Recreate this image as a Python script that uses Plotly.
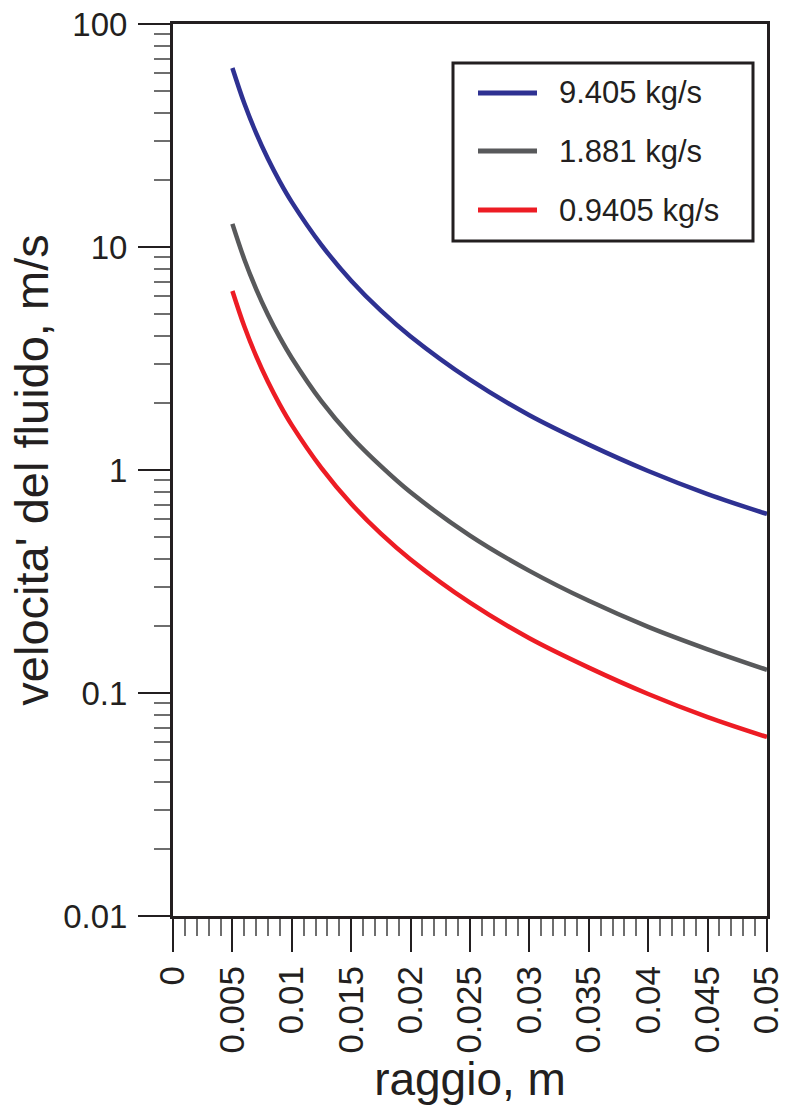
import plotly.graph_objects as go

# ---- data ----
raggio = [0.005, 0.006, 0.007, 0.008, 0.009, 0.010, 0.0125, 0.015, 0.0175,
          0.020, 0.025, 0.030, 0.035, 0.040, 0.045, 0.050]
v_9405 = [63.5, 44.1, 32.4, 24.8, 19.6, 15.9, 10.2, 7.06, 5.18,
          3.97, 2.54, 1.76, 1.30, 0.99, 0.78, 0.635]
v_1881 = [12.7, 8.82, 6.48, 4.96, 3.92, 3.18, 2.03, 1.41, 1.04,
          0.794, 0.508, 0.353, 0.259, 0.198, 0.157, 0.127]
v_09405 = [6.35, 4.41, 3.24, 2.48, 1.96, 1.59, 1.02, 0.706, 0.518,
           0.397, 0.254, 0.176, 0.130, 0.099, 0.078, 0.0635]
series_names = ["9.405 kg/s", "1.881 kg/s", "0.9405 kg/s"]
series_values = [v_9405, v_1881, v_09405]
series_colors = ["rgb(46,49,146)", "rgb(88,89,91)", "rgb(237,28,36)"]

x_ticks = [0, 0.005, 0.01, 0.015, 0.02, 0.025, 0.03, 0.035, 0.04, 0.045, 0.05]
x_ticklabels = ["0", "0.005", "0.01", "0.015", "0.02", "0.025", "0.03",
                "0.035", "0.04", "0.045", "0.05"]

x_title = "raggio, m"
y_title = "velocita' del fluido, m/s"

INK = "rgb(35,31,32)"
FONT = "Liberation Sans, Arial, Helvetica, sans-serif"

W, H = 785, 1105
L, R, T, B = 173, 18, 24, 189
PW, PH = W - L - R, H - T - B


def px_x(p):
    return (p - L) / PW


def px_y(p):
    return (H - B - p) / PH


fig = go.Figure()
for name, vals, col in zip(series_names, series_values, series_colors):
    fig.add_trace(go.Scatter(x=raggio, y=vals, name=name, mode="lines",
                             line=dict(color=col, width=4.5, shape="spline"),
                             showlegend=False, cliponaxis=False, hoverinfo="skip"))

# manual legend (box, samples, labels)
shapes = [dict(type="rect", xref="paper", yref="paper",
               x0=px_x(453), x1=px_x(753), y0=px_y(241), y1=px_y(63),
               line=dict(color=INK, width=3), fillcolor="white", layer="above")]
annotations = []
rows = [93, 151, 210]
for name, col, ry in zip(series_names, series_colors, rows):
    shapes.append(dict(type="line", xref="paper", yref="paper",
                       x0=px_x(478), x1=px_x(537), y0=px_y(ry), y1=px_y(ry),
                       line=dict(color=col, width=5), layer="above"))
    annotations.append(dict(text=name, xref="paper", yref="paper",
                            x=px_x(557), y=px_y(ry), xanchor="left", yanchor="middle",
                            showarrow=False, font=dict(size=31, color=INK, family=FONT)))

# fragment of the cut-off title at the top of the picture
annotations.append(dict(text="p", xref="paper", yref="paper", x=px_x(203), y=1,
                        xanchor="left", yanchor="bottom", yshift=23, showarrow=False,
                        font=dict(size=46, color=INK, family=FONT)))

fig.update_layout(
    width=W, height=H,
    margin=dict(l=L, r=R, t=T, b=B, pad=0, autoexpand=False),
    paper_bgcolor="white", plot_bgcolor="white",
    font=dict(family=FONT, color=INK),
    showlegend=False,
    shapes=shapes, annotations=annotations,
)

fig.update_xaxes(
    range=[0, 0.05], tickmode="array", tickvals=x_ticks, ticktext=x_ticklabels,
    automargin=False, ticklabeloverflow="allow",
    showgrid=False, zeroline=False,
    showline=True, linecolor=INK, linewidth=3, mirror=True,
    ticks="outside", ticklen=33, tickwidth=2, tickcolor=INK,
    tickangle=-90, tickfont=dict(size=35, color=INK, family=FONT),
    ticklabelstandoff=0,
    minor=dict(ticks="outside", ticklen=17, tickwidth=2, tickcolor="rgb(110,110,110)",
               tickmode="linear", tick0=0, dtick=0.001, showgrid=False),
    title=dict(text=x_title, font=dict(size=46, color=INK, family=FONT), standoff=4),
)
fig.update_yaxes(
    type="log", range=[-2, 2], dtick=1, automargin=False, ticklabeloverflow="allow",
    showgrid=False, zeroline=False,
    showline=True, linecolor=INK, linewidth=3, mirror=True,
    ticks="outside", ticklen=32, tickwidth=2, tickcolor=INK,
    tickfont=dict(size=33, color=INK, family=FONT),
    ticklabelstandoff=4,
    minor=dict(ticks="outside", ticklen=16, tickwidth=2, tickcolor="rgb(110,110,110)",
               showgrid=False),
    title=dict(text=y_title, font=dict(size=47, color=INK, family=FONT), standoff=0),
)

fig.write_html("out.html", config={"displayModeBar": False},
               post_script="document.body.style.margin='0';document.body.style.padding='0';")
